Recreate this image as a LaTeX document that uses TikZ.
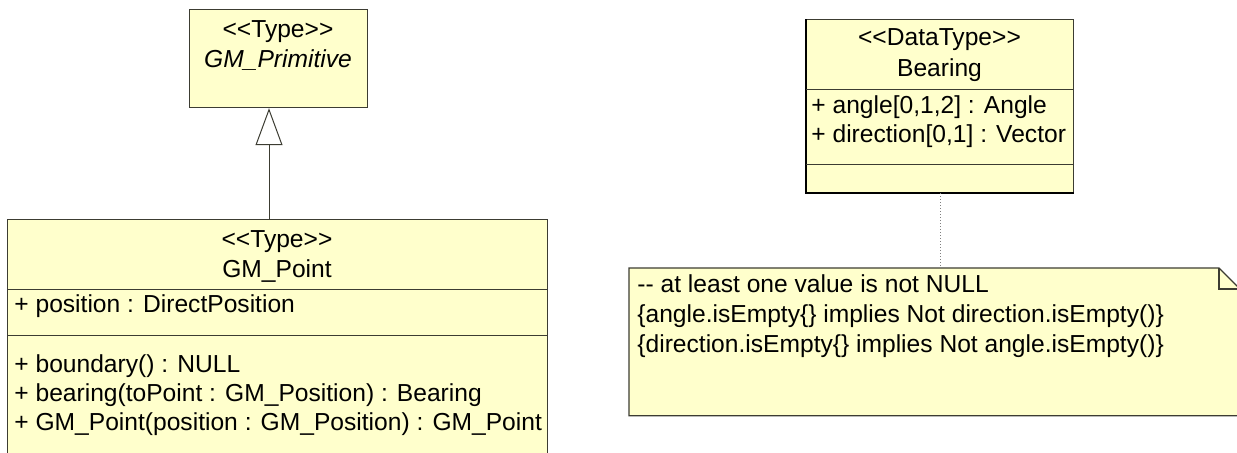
\documentclass[tikz,border=0pt]{standalone}
\usepackage{fontspec}
\setmainfont{Liberation Sans}[Ligatures=TeXOff]
\usetikzlibrary{arrows.meta}
\definecolor{umlfill}{RGB}{255,255,204}
\definecolor{umlline}{RGB}{60,60,50}
\tikzset{
  classbox/.style={draw=umlline, fill=umlfill, line width=0.6pt, inner sep=0pt, anchor=north west},
  notebox/.style={draw=umlline, fill=umlfill, line width=0.6pt},
  compartment/.style={draw=umlline, line width=0.5pt},
  heavyedge/.style={draw=black, line width=1pt},
  member/.style={anchor=west, inner sep=0pt, text height=0.72em, text depth=0.21em},
  title/.style={member, anchor=center},
  generalisation/.style={-{Triangle[open, length=18.5pt, width=13.5pt, fill=white]}, draw=umlline, line width=0.5pt},
  anchorline/.style={draw=gray, densely dotted, line width=0.5pt}
}
\begin{document}
\begin{tikzpicture}[x=0.5pt, y=-0.5pt, font=\fontsize{12.3pt}{14.5pt}\selectfont]
    \useasboundingbox (0,0) rectangle (1237,452);
    \node (primitive) [classbox, minimum width=89pt, minimum height=49pt] at (189,9) {};
    \node (pointbox) [classbox, minimum width=270pt, minimum height=125.5pt] at (7,219) {};
    \node (bearing) [classbox, minimum width=133.5pt, minimum height=86.5pt] at (806,19) {};
    \draw [heavyedge] (bearing.north west) |- (bearing.south east);
    \node (note) [inner sep=0pt, anchor=north west, minimum width=305.5pt, minimum height=73.5pt] at (629,268) {};
    \filldraw [notebox] (note.north west) -- ++(590,0) -- ++(21,21) -- (note.south east) -- (note.south west) -- cycle;
    \draw [notebox, fill=none] (note.north west) ++(590,0) |- ++(21,21);
    \draw [compartment] (pointbox.north west) ++(0,70) -- +(540,0);
    \draw [compartment] (pointbox.north west) ++(0,116) -- +(540,0);
    \draw [compartment] (bearing.north west) ++(0,70) -- +(267,0);
    \draw [compartment] (bearing.north west) ++(0,145) -- +(267,0);
    \node (primitive-stereo) [title] at (278,32) {<<Type>>};
    \node (primitive-name) [title] at (278,62) {\itshape GM\_Primitive};
    \node (point-stereo) [title] at (277,242) {<<Type>>};
    \node (point-name) [title] at (277,272) {GM\_Point};
    \node (point-attr) [member] at (14,307) {+ position : DirectPosition};
    \foreach \op [count=\i] in {{+ boundary() : NULL},
        {+ bearing(toPoint : GM\_Position) : Bearing},
        {+ GM\_Point(position : GM\_Position) : GM\_Point}}
    {
      \node (point-op\i) [member] at (14,339+28.7*\i) {\op};
    }
    \node (bearing-stereo) [title] at (939.5,40) {<<DataType>>};
    \node (bearing-name) [title] at (939.5,71) {Bearing};
    \node (bearing-attr1) [member] at (811,108) {+ angle[0,1,2] : Angle};
    \node (bearing-attr2) [member] at (811,137) {+ direction[0,1] : Vector};
    \foreach \txt [count=\i] in {{-- at least one value is not NULL},
        {\{angle.isEmpty\{\} implies Not direction.isEmpty()\}},
        {\{direction.isEmpty\{\} implies Not angle.isEmpty()\}}}
    {
      \node (note-line\i) [member] at (637,257+30*\i) {\txt};
    }
    \coordinate (genx) at (269,0);
    \draw [generalisation] (pointbox.north -| genx) -- (primitive.south -| genx);
    \draw [anchorline] (bearing.south) -- (bearing.south |- note.north);
  \end{tikzpicture}
\end{document}
